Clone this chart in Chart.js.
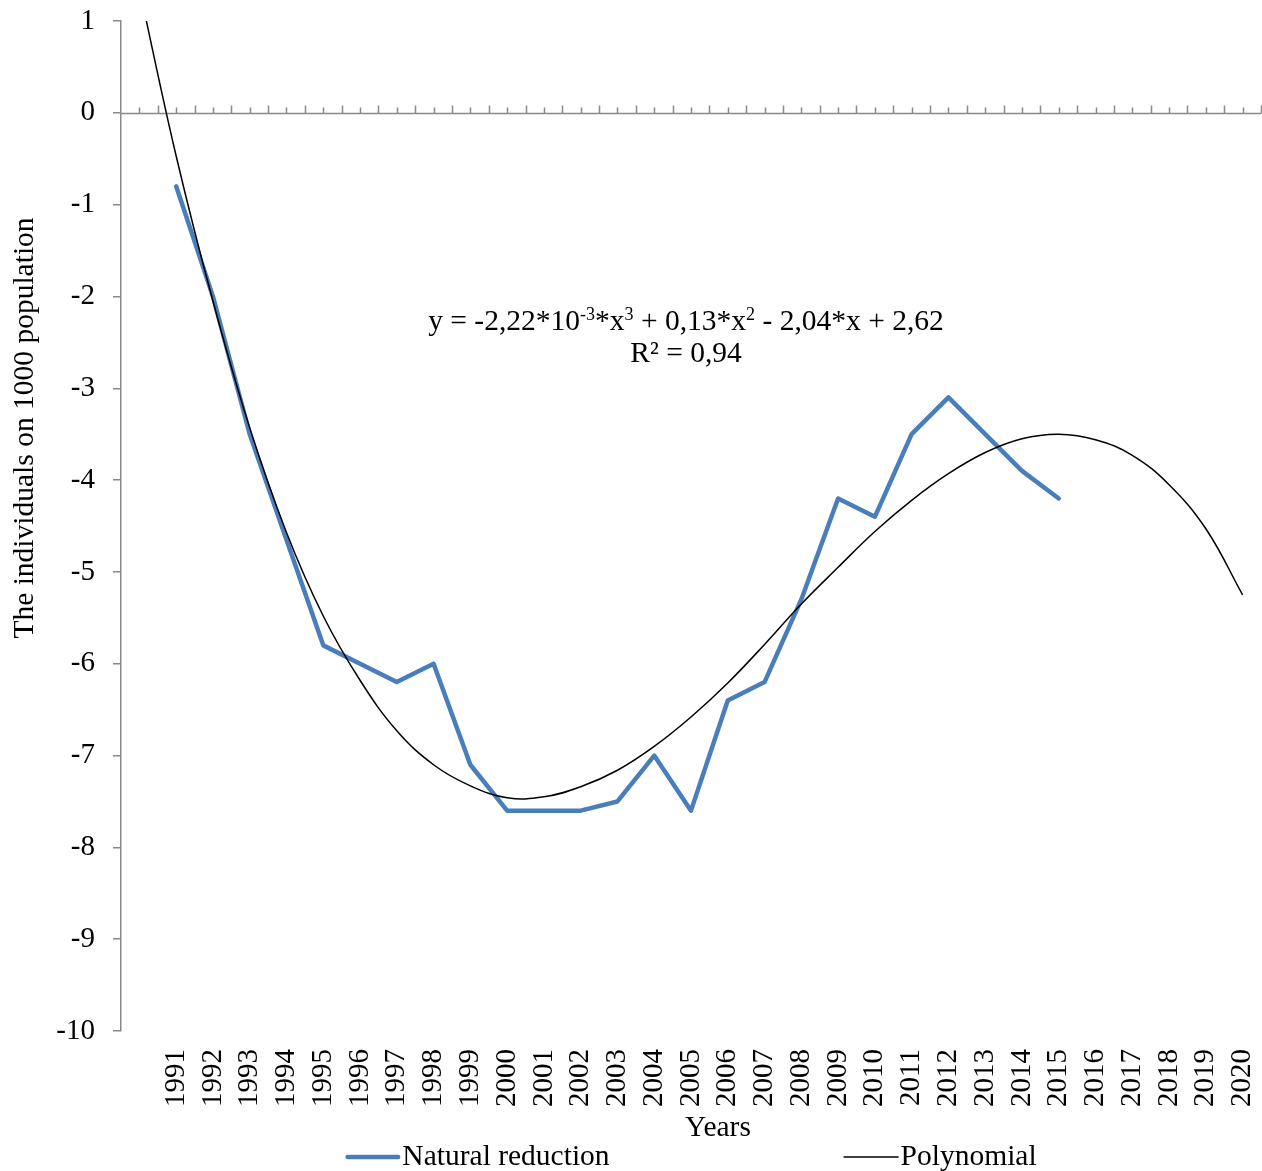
<!DOCTYPE html>
<html>
<head>
<meta charset="utf-8">
<script src="https://cdn.jsdelivr.net/npm/chart.js@4.4.1/dist/chart.umd.min.js"></script>
<style>
html,body{margin:0;padding:0;background:#ffffff;}
canvas{display:block;}
</style>
</head>
<body>
<canvas id="c" width="1262" height="1171"></canvas>
<script>
// ---- data ----
const years = [1991,1992,1993,1994,1995,1996,1997,1998,1999,2000,2001,2002,2003,2004,2005,2006,2007,2008,2009,2010,2011,2012,2013,2014,2015,2016,2017,2018,2019,2020];
const naturalYears = [1991,1992,1993,1994,1995,1996,1997,1998,1999,2000,2001,2002,2003,2004,2005,2006,2007,2008,2009,2010,2011,2012,2013,2014,2015];
const naturalReduction = [-0.8,-2.0,-3.5,-4.65,-5.8,-6.0,-6.2,-6.0,-7.1,-7.6,-7.6,-7.6,-7.5,-7.0,-7.6,-6.4,-6.2,-5.3,-4.2,-4.4,-3.5,-3.1,-3.5,-3.9,-4.2];
const polyYears = [1990,1991,1992,1993,1994,1995,1996,1997,1998,1999,2000,2001,2002,2003,2004,2005,2006,2007,2008,2009,2010,2011,2012,2013,2014,2015,2016,2017,2018,2019,2020];
const polyValues = [1.35,-0.47,-2.05,-3.43,-4.57,-5.48,-6.18,-6.73,-7.1,-7.33,-7.46,-7.45,-7.34,-7.16,-6.9,-6.58,-6.21,-5.79,-5.35,-4.95,-4.56,-4.22,-3.93,-3.7,-3.55,-3.5,-3.56,-3.73,-4.05,-4.53,-5.25];
const yTicks = [1,0,-1,-2,-3,-4,-5,-6,-7,-8,-9,-10];
const seriesNames = ['Natural reduction','Polynomial'];
const xTitle = 'Years';
const yTitle = 'The individuals on 1000 population';
const equationParts = [['y = -2,22*10',false],['-3',true],['*x',false],['3',true],[' + 0,13*x',false],['2',true],[' - 2,04*x + 2,62',false]];
const r2Text = 'R\u00B2 = 0,94';

// ---- styles ----
const FONT = "'Liberation Serif', 'Times New Roman', serif";
const FS = 29.5;
const TFS = 29;
const AXIS = '#898989';
const BLUE = '#4A7EBB';

const decor = {
  id: 'decor',
  beforeDatasetsDraw(chart) {
    const {ctx, scales: {x, y}} = chart;
    const y0 = Math.round(y.getPixelForValue(0)) + 0.5;
    ctx.save();
    ctx.strokeStyle = AXIS;
    ctx.lineWidth = 1.5;
    ctx.beginPath();
    ctx.moveTo(x.left, y0);
    ctx.lineTo(x.right, y0);
    for (let v = x.min + 0.5; v <= x.max + 1e-6; v += 0.5) {
      const px = Math.round(x.getPixelForValue(v)) + 0.5;
      const half = Math.abs(v - Math.round(v)) > 0.1;
      ctx.moveTo(px, y0);
      ctx.lineTo(px, y0 - (half ? 8 : 6));
    }
    ctx.stroke();
    ctx.restore();
  },
  afterDraw(chart) {
    const {ctx, chartArea} = chart;
    const mainFont = FS + 'px ' + FONT;
    const supFont = Math.round(FS * 0.62) + 'px ' + FONT;
    ctx.save();
    ctx.fillStyle = '#000';
    ctx.font = mainFont;
    // y title
    ctx.save();
    ctx.translate(25, 428);
    ctx.rotate(-Math.PI / 2);
    ctx.textAlign = 'center';
    ctx.textBaseline = 'middle';
    ctx.fillText(yTitle, 0, 0);
    ctx.restore();
    // x title
    ctx.textAlign = 'center';
    ctx.textBaseline = 'middle';
    ctx.fillText(xTitle, 718, 1128);
    // equation
    let total = 0;
    const widths = equationParts.map(([t, sup]) => {
      ctx.font = sup ? supFont : mainFont;
      const w = ctx.measureText(t).width;
      total += w;
      return w;
    });
    let cx = 686 - total / 2;
    ctx.textAlign = 'left';
    ctx.textBaseline = 'alphabetic';
    equationParts.forEach(([t, sup], i) => {
      ctx.font = sup ? supFont : mainFont;
      ctx.fillText(t, cx, sup ? 320 : 330);
      cx += widths[i];
    });
    ctx.font = mainFont;
    ctx.textAlign = 'center';
    ctx.fillText(r2Text, 686, 362);
    // legend
    const ds = chart.data.datasets;
    const sample = 55, gapText = 2, gapItems = 234;
    ctx.font = mainFont;
    const itemW = ds.map(d => sample + gapText + ctx.measureText(d.label).width);
    const legW = itemW[0] + gapItems + itemW[1];
    let lx = (chartArea.left + chartArea.right) / 2 - legW / 2;
    const ly = 1157;
    ds.forEach((d, i) => {
      ctx.strokeStyle = d.borderColor;
      ctx.lineWidth = d.borderWidth;
      ctx.lineCap = d.borderCapStyle || 'butt';
      ctx.beginPath();
      const inset = ctx.lineCap === 'round' ? d.borderWidth / 2 : 0;
      ctx.moveTo(lx + inset, ly);
      ctx.lineTo(lx + sample - inset, ly);
      ctx.stroke();
      ctx.textAlign = 'left';
      ctx.textBaseline = 'middle';
      ctx.fillText(d.label, lx + sample + gapText, ly);
      lx += itemW[i] + gapItems;
    });
    ctx.restore();
  }
};

function zeroPad(s) { s.paddingLeft = 0; s.paddingRight = 0; s.paddingTop = 0; s.paddingBottom = 0; }

new Chart(document.getElementById('c'), {
  type: 'line',
  data: {
    datasets: [
      {
        label: seriesNames[0],
        data: naturalYears.map((v, i) => ({x: v, y: naturalReduction[i]})),
        borderColor: BLUE,
        borderWidth: 4.5,
        borderCapStyle: 'round',
        borderJoinStyle: 'round',
        pointRadius: 0,
        tension: 0,
        fill: false,
        order: 2
      },
      {
        label: seriesNames[1],
        data: polyYears.map((v, i) => ({x: v, y: polyValues[i]})),
        borderColor: '#000000',
        borderWidth: 1.5,
        pointRadius: 0,
        tension: 0.4,
        fill: false,
        order: 1
      }
    ]
  },
  options: {
    responsive: false,
    animation: false,
    devicePixelRatio: 1,
    layout: {padding: {left: 0, right: 1, top: 21, bottom: 0}},
    plugins: {legend: {display: false}, tooltip: {enabled: false}},
    scales: {
      x: {
        type: 'linear',
        min: 1989.5,
        max: 2020.5,
        afterBuildTicks: (s) => { s.ticks = years.map(v => ({value: v})); },
        afterFit: (s) => { s.height = 140; zeroPad(s); },
        grid: {display: false, drawTicks: false},
        border: {display: false},
        ticks: {
          autoSkip: false,
          minRotation: 90,
          maxRotation: 90,
          padding: 18,
          color: '#000',
          font: {family: FONT, size: TFS},
          callback: (v) => String(v)
        }
      },
      y: {
        min: -10,
        max: 1,
        afterBuildTicks: (s) => { s.ticks = yTicks.map(v => ({value: v})); },
        afterFit: (s) => { s.width = 121; zeroPad(s); },
        grid: {drawOnChartArea: false, drawTicks: true, tickLength: 8, color: AXIS, lineWidth: 1.5},
        border: {display: true, color: AXIS, width: 1.5},
        ticks: {
          padding: 18,
          color: '#000',
          font: {family: FONT, size: TFS},
          callback: (v) => String(v)
        }
      }
    }
  },
  plugins: [decor]
});
</script>
</body>
</html>
